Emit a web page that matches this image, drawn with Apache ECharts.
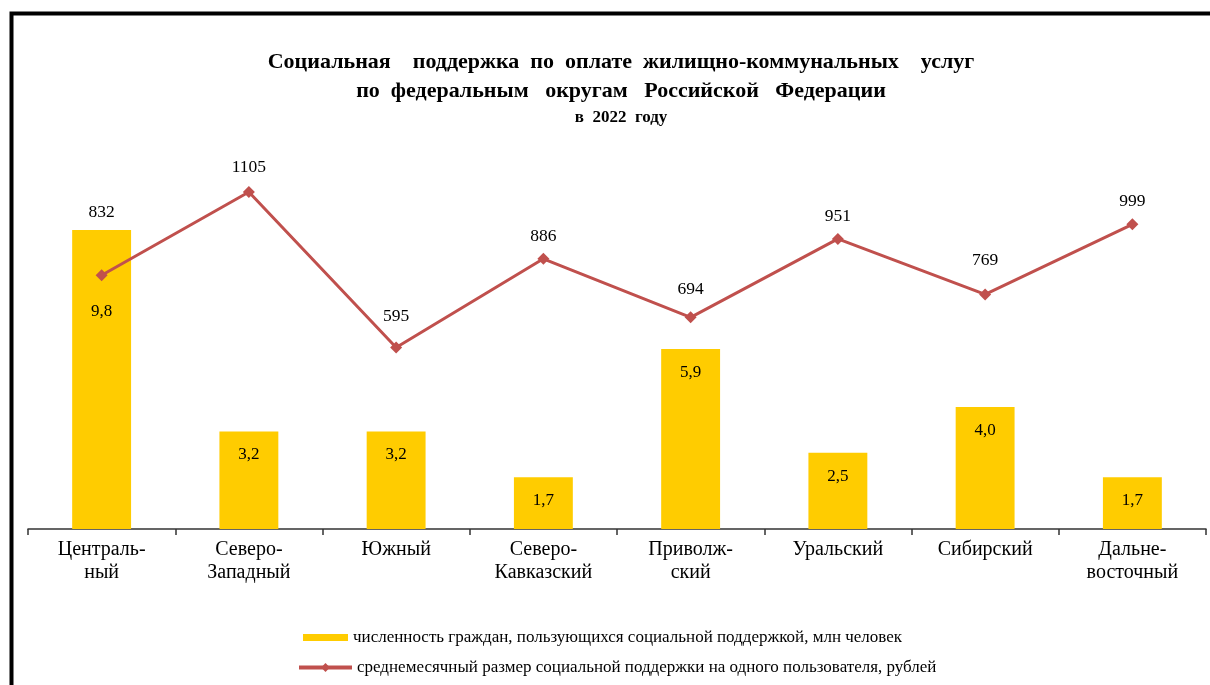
<!DOCTYPE html>
<html>
<head>
<meta charset="utf-8">
<script src="https://cdn.jsdelivr.net/npm/echarts@6/dist/echarts.min.js"></script>
<style>
  html, body { margin: 0; padding: 0; background: #fff; }
  #chart { width: 1210px; height: 685px; }
</style>
</head>
<body>
<div id="chart"></div>
<script>
// Federal districts of the Russian Federation
const districts = ['Централь-\nный', 'Северо-\nЗападный', 'Южный', 'Северо-\nКавказский',
                   'Приволж-\nский', 'Уральский', 'Сибирский', 'Дальне-\nвосточный'];
// Number of recipients of housing & utilities support, million people
const recipients = [9.8, 3.2, 3.2, 1.7, 5.9, 2.5, 4.0, 1.7];
// Average monthly support per recipient, roubles
const avgSupport = [832, 1105, 595, 886, 694, 951, 769, 999];

const barName = 'численность граждан, пользующихся социальной поддержкой, млн человек';
const lineName = 'среднемесячный размер социальной поддержки на одного пользователя, рублей';

const serif = '"Liberation Serif", "DejaVu Serif", serif';
const fmtComma = v => v.toFixed(1).replace('.', ',');

// Bar labels sit near the bar top; the first one is pushed lower to clear the line marker
const barData = recipients.map((v, i) => i === 0
  ? { value: v, label: { offset: [0, 58] } }
  : v);
// Line labels above the points; the first one lifted above its bar
const lineLift = [63, 25, 31, 22, 28, 23, 34, 23];
const lineData = avgSupport.map((v, i) => ({ value: v, label: { offset: [0, 15 - lineLift[i]] } }));

const titleStyle = { fontFamily: serif, fontWeight: 'bold', fontSize: 22, color: '#000' };

const chart = echarts.init(document.getElementById('chart'));
chart.setOption({
  backgroundColor: '#fff',
  animation: false,
  title: [
    { text: 'Социальная    поддержка  по  оплате  жилищно-коммунальных    услуг', left: 616, top: 46, textAlign: 'center',
      textStyle: titleStyle },
    { text: 'по  федеральным   округам   Российской   Федерации', left: 616, top: 75, textAlign: 'center',
      textStyle: titleStyle },
    { text: 'в  2022  году', left: 616, top: 104, textAlign: 'center',
      textStyle: Object.assign({}, titleStyle, { fontSize: 17 }) }
  ],
  graphic: [{
    type: 'rect', left: 9, top: 11, z: 100, silent: true,
    shape: { x: 0, y: 0, width: 1400, height: 900 },
    style: { fill: 'none', stroke: '#000', lineWidth: 4 }
  }],
  legend: [
    { data: [barName], left: 303, top: 629, padding: 0, itemWidth: 45, itemHeight: 7, itemGap: 9,
      icon: 'rect', textStyle: { fontFamily: serif, fontSize: 17, color: '#000' } },
    { data: [lineName], left: 297, top: 659, padding: 0, itemWidth: 53, itemHeight: 11, itemGap: 10,
      lineStyle: { width: 4 },
      textStyle: { fontFamily: serif, fontSize: 17, color: '#000' } }
  ],
  grid: { left: 28, right: 4, top: 163, bottom: 156, containLabel: false },
  xAxis: {
    type: 'category', data: districts, boundaryGap: true,
    axisLine: { lineStyle: { color: '#333', width: 1.5 } },
    axisTick: { show: true, length: 6, lineStyle: { color: '#333', width: 1.5 } },
    axisLabel: { fontFamily: serif, fontSize: 20, color: '#000', margin: 9, lineHeight: 23, interval: 0 }
  },
  yAxis: [
    { type: 'value', min: 0, max: 12, show: false, splitLine: { show: false } },
    { type: 'value', min: 0, max: 1200, show: false, splitLine: { show: false } }
  ],
  series: [
    {
      name: barName, type: 'bar', data: barData, yAxisIndex: 0, barWidth: '40%',
      itemStyle: { color: '#FFCC00' },
      label: { show: true, position: 'insideTop', distance: 15, formatter: p => fmtComma(p.value),
               fontFamily: serif, fontSize: 17, color: '#000' }
    },
    {
      name: lineName, type: 'line', data: lineData, yAxisIndex: 1,
      symbol: 'diamond', symbolSize: 12,
      lineStyle: { color: '#C0504D', width: 3 },
      itemStyle: { color: '#C0504D' },
      label: { show: true, position: 'top', distance: 0, fontFamily: serif, fontSize: 17.5, color: '#000' }
    }
  ]
});
</script>
</body>
</html>
